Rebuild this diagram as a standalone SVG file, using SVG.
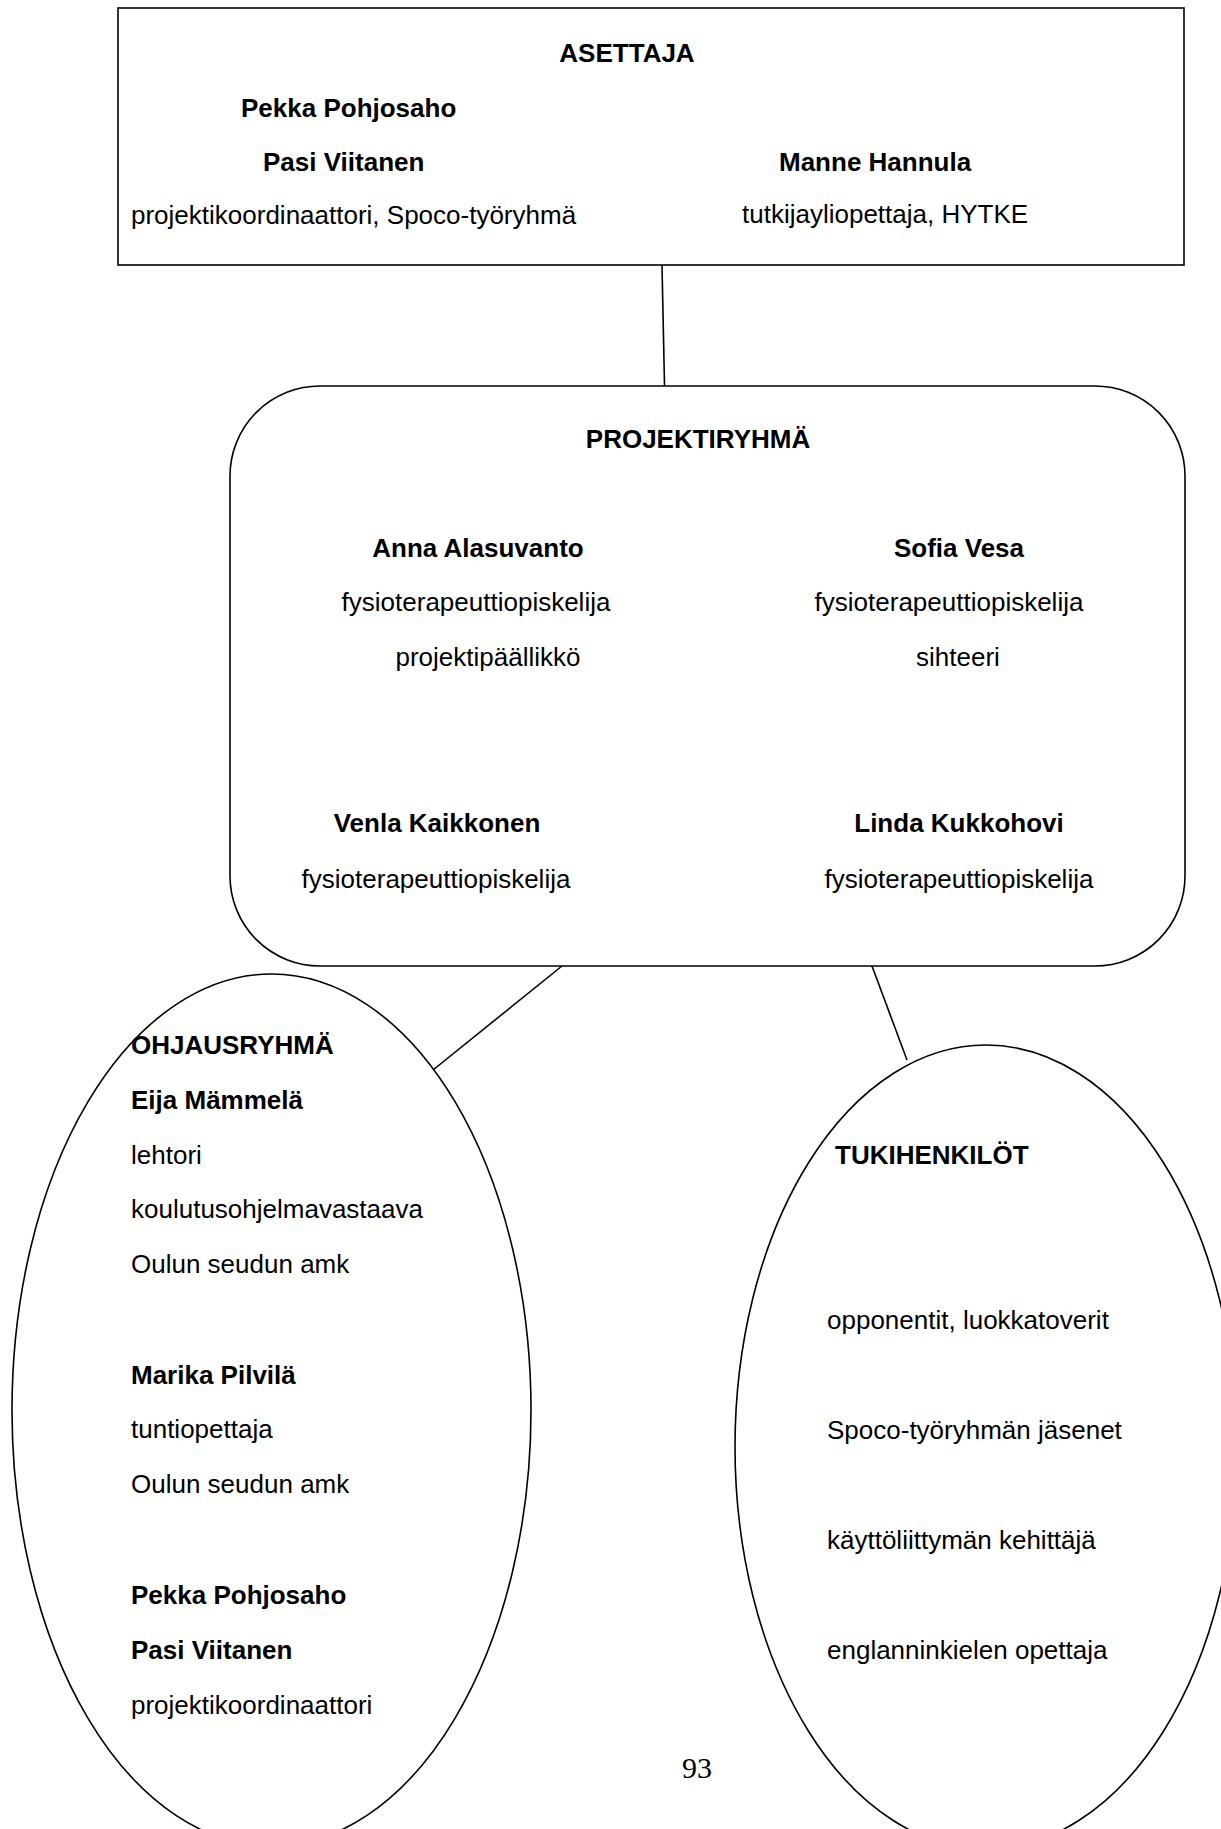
<svg xmlns="http://www.w3.org/2000/svg" width="1221" height="1829" viewBox="0 0 1221 1829">
  <style>
    .shape { fill: #ffffff; stroke: #000000; stroke-width: 1.6; }
    .conn { stroke: #000000; stroke-width: 1.6; fill: none; }
    text { font-family: "Liberation Sans", Arial, sans-serif; font-size: 26px; fill: #000000; }
    .b { font-weight: bold; }
    .m { text-anchor: middle; }
    .pg { font-family: "Liberation Serif", "Times New Roman", serif; font-size: 30px; }
  </style>
  <rect width="1221" height="1829" fill="#ffffff"/>

  <g id="connectors">
    <line class="conn" x1="662" y1="265" x2="664.5" y2="386"/>
    <line class="conn" x1="562" y1="966" x2="433" y2="1070"/>
    <line class="conn" x1="872" y1="966" x2="907" y2="1060"/>
  </g>

  <g id="asettaja">
    <rect class="shape" x="118" y="8" width="1066" height="257"/>
    <text class="b m" x="627" y="62">ASETTAJA</text>
    <text class="b" x="241" y="117">Pekka Pohjosaho</text>
    <text class="b" x="263" y="171">Pasi Viitanen</text>
    <text class="b" x="779" y="171">Manne Hannula</text>
    <text x="131" y="224">projektikoordinaattori, Spoco-työryhmä</text>
    <text x="742" y="223">tutkijayliopettaja, HYTKE</text>
  </g>

  <g id="projektiryhma">
    <rect class="shape" x="230" y="386" width="955" height="580" rx="90" ry="90"/>
    <text class="b m" x="698" y="448">PROJEKTIRYHMÄ</text>
    <text class="b m" x="478" y="557">Anna Alasuvanto</text>
    <text class="m" x="476" y="611">fysioterapeuttiopiskelija</text>
    <text class="m" x="488" y="666">projektipäällikkö</text>
    <text class="b m" x="959" y="557">Sofia Vesa</text>
    <text class="m" x="949" y="611">fysioterapeuttiopiskelija</text>
    <text class="m" x="958" y="666">sihteeri</text>
    <text class="b m" x="437" y="832">Venla Kaikkonen</text>
    <text class="m" x="436" y="888">fysioterapeuttiopiskelija</text>
    <text class="b m" x="959" y="832">Linda Kukkohovi</text>
    <text class="m" x="959" y="888">fysioterapeuttiopiskelija</text>
  </g>

  <g id="ohjausryhma">
    <ellipse class="shape" cx="271.5" cy="1410" rx="259.5" ry="436"/>
    <text class="b" x="131" y="1054">OHJAUSRYHMÄ</text>
    <text class="b" x="131" y="1109">Eija Mämmelä</text>
    <text x="131" y="1164">lehtori</text>
    <text x="131" y="1218">koulutusohjelmavastaava</text>
    <text x="131" y="1273">Oulun seudun amk</text>
    <text class="b" x="131" y="1384">Marika Pilvilä</text>
    <text x="131" y="1438">tuntiopettaja</text>
    <text x="131" y="1493">Oulun seudun amk</text>
    <text class="b" x="131" y="1604">Pekka Pohjosaho</text>
    <text class="b" x="131" y="1659">Pasi Viitanen</text>
    <text x="131" y="1714">projektikoordinaattori</text>
  </g>

  <g id="tukihenkilot">
    <ellipse class="shape" cx="986" cy="1447" rx="251" ry="402"/>
    <text class="b" x="835" y="1164">TUKIHENKILÖT</text>
    <text x="827" y="1329">opponentit, luokkatoverit</text>
    <text x="827" y="1439">Spoco-työryhmän jäsenet</text>
    <text x="827" y="1549">käyttöliittymän kehittäjä</text>
    <text x="827" y="1659">englanninkielen opettaja</text>
  </g>

  <text class="pg" x="682" y="1778">93</text>
</svg>
